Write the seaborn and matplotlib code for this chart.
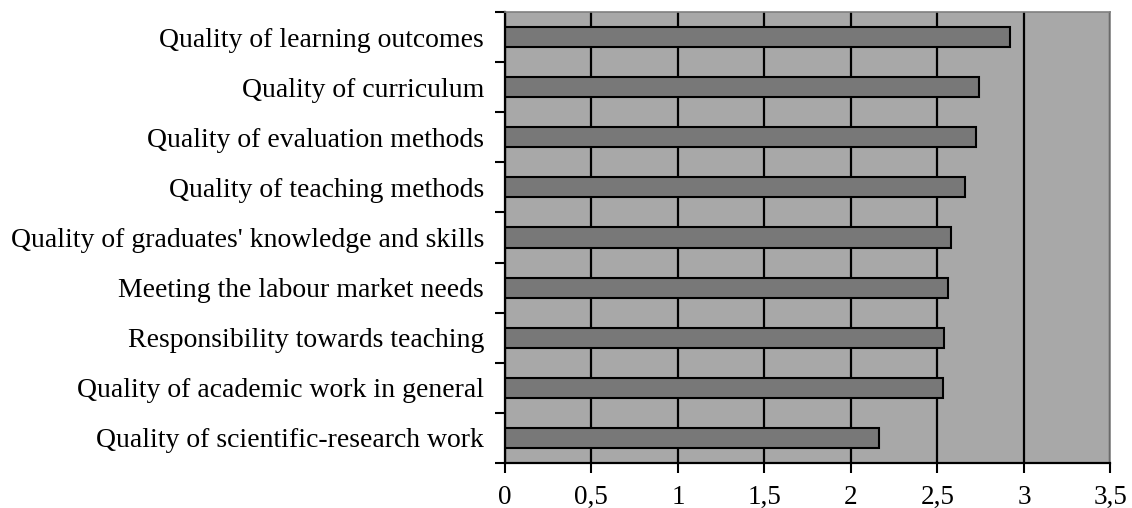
import numpy as np
import pandas as pd
import matplotlib
matplotlib.use('Agg')
import matplotlib.pyplot as plt
import seaborn as sns

categories = ['Quality of learning outcomes', 'Quality of curriculum',
              'Quality of evaluation methods', 'Quality of teaching methods',
              "Quality of graduates' knowledge and skills",
              'Meeting the labour market needs',
              'Responsibility towards teaching',
              'Quality of academic work in general',
              'Quality of scientific-research work']
values = [2.92, 2.74, 2.72, 2.66, 2.58, 2.56, 2.54, 2.53, 2.16]
xticks = [0, 0.5, 1, 1.5, 2, 2.5, 3, 3.5]
xtick_labels = ['0', '0,5', '1', '1,5', '2', '2,5', '3', '3,5']

df = pd.DataFrame({'item': categories, 'score': values})

sns.set_style('white')
plt.rcParams['font.family'] = ['Liberation Serif', 'DejaVu Serif']
plt.rcParams['text.color'] = 'black'
plt.rcParams['xtick.color'] = 'black'
plt.rcParams['ytick.color'] = 'black'

fig = plt.figure(figsize=(11.32, 5.08), dpi=100)
ax = fig.add_axes([0.446, 0.089, 0.535, 0.887])
ax.set_facecolor('#a8a8a8')

sns.barplot(data=df, x='score', y='item', orient='h', color='#787878',
            saturation=1, width=0.4, edgecolor='black', linewidth=1.5, ax=ax)

ax.set_xlim(0, 3.5)
ax.set_ylim(len(categories) - 0.5, -0.5)
ax.set_xticks(xticks)
ax.set_xticklabels(xtick_labels, fontsize=19.5)
ax.xaxis.grid(True, color='black', linewidth=1.6)
ax.set_axisbelow(True)

# category labels on minor ticks, tick marks on category boundaries
ax.set_yticks(np.arange(len(categories) + 1) - 0.5)
ax.set_yticklabels([])
ax.set_yticks(np.arange(len(categories)), minor=True)
ax.set_yticklabels(categories, minor=True, fontsize=20)
ax.tick_params(axis='y', which='major', length=7, width=1.5, left=True)
ax.tick_params(axis='y', which='minor', length=0, pad=15)
ax.tick_params(axis='x', length=7, width=1.5, pad=9, bottom=True)

ax.set_xlabel('')
ax.set_ylabel('')
for s in ['left', 'bottom']:
    ax.spines[s].set_color('black')
    ax.spines[s].set_linewidth(1.6)
for s in ['right', 'top']:
    ax.spines[s].set_color('#808080')
    ax.spines[s].set_linewidth(1.2)

fig.savefig('out.png', dpi=100)
